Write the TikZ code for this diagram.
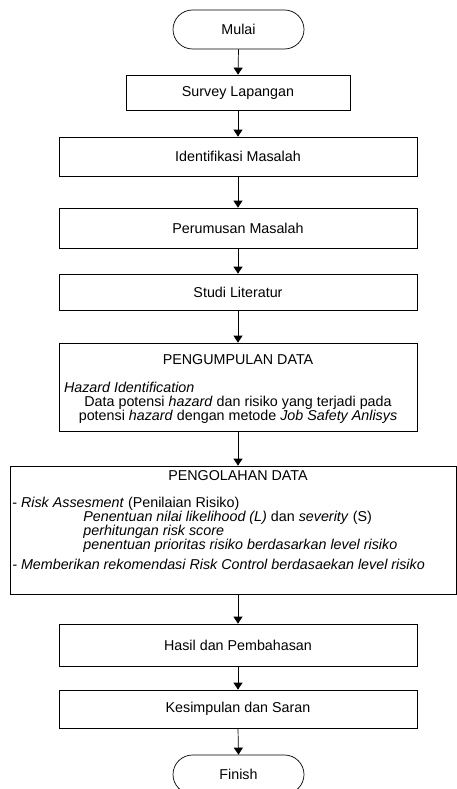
\documentclass[tikz,border=0pt]{standalone}
\usepackage{fontspec}
\setmainfont{Liberation Sans}
\usetikzlibrary{shapes.misc,arrows.meta}

\begin{document}
\begin{tikzpicture}[x=1pt,y=-1pt,line width=0.7pt]
  \def\fs{\fontsize{14.3}{14}\selectfont}

\tikzstyle{proses}=[draw,rectangle,inner sep=0pt,font=\fs]
\tikzstyle{terminal}=[draw,rounded rectangle,minimum width=131pt,minimum height=39pt,inner sep=0pt,font=\fs]
\tikzstyle{isi}=[inner sep=0pt,font=\fs]
\tikzstyle{panah}=[-{Triangle[length=7pt,width=9pt]}]
\useasboundingbox (0,0) rectangle (456,789);
\node[terminal] (mulai) at (238.5,29.5) {Mulai};
\node[proses,minimum width=224pt,minimum height=35pt] (survey) at (238,92.5) {Survey Lapangan};
\draw[panah] (mulai.south) -- (survey.north);
\node[proses,minimum width=358pt,minimum height=39pt] (identifikasi) at (238,156.5) {Identifikasi Masalah};
\draw[panah] (survey) -- (identifikasi);
\node[proses,minimum width=358pt,minimum height=40pt] (perumusan) at (238,228) {Perumusan Masalah};
\draw[panah] (identifikasi) -- (perumusan);
\node[proses,minimum width=358pt,minimum height=36pt] (studi) at (238,292) {Studi Literatur};
\draw[panah] (perumusan) -- (studi);
% pengumpulan data
\node[proses,minimum width=358pt,minimum height=88pt] (pengumpulan) at (238,387) {};
\draw[panah] (studi) -- (pengumpulan);
\node[isi] (judul1) at (238,360) {PENGUMPULAN DATA};
\node[isi,anchor=north,align=center] (data) at (238,381.5)
  {\makebox[348pt][l]{\textit{Hazard Identification}}\\
   Data potensi \textit{hazard} dan risiko yang terjadi pada\\
   potensi \textit{hazard} dengan metode \textit{Job Safety Anlisys}};
% pengolahan data
\node[proses,minimum width=446pt,minimum height=128pt] (pengolahan) at (233,530) {};
\draw[panah] (pengumpulan.south) -- (pengumpulan.south |- pengolahan.north);
\node[isi] (judul2) at (238,476) {PENGOLAHAN DATA};
\node[isi,anchor=north west,align=left] (olah) at (12,496.5)
  {- \textit{Risk Assesment} (Penilaian Risiko)\\
   \hspace*{71pt}\textit{Penentuan nilai likelihood (L)} dan \textit{severity} (S)\\
   \hspace*{71pt}\textit{perhitungan risk score}\\
   \hspace*{71pt}\textit{penentuan prioritas risiko berdasarkan level risiko}\\[6pt]
   \textit{- Memberikan rekomendasi Risk Control berdasaekan level risiko}};
\node[proses,minimum width=358pt,minimum height=42pt] (hasil) at (238,645) {Hasil dan Pembahasan};
\draw[panah] (pengolahan.south -| hasil.north) -- (hasil.north);
\node[proses,minimum width=358pt,minimum height=38pt] (kesimpulan) at (238,709) {Kesimpulan dan Saran};
\draw[panah] (hasil) -- (kesimpulan);
\node[terminal] (finish) at (238.5,774.5) {Finish};
\draw[panah] (kesimpulan.south) -- (finish.north);
\end{tikzpicture}
\end{document}
